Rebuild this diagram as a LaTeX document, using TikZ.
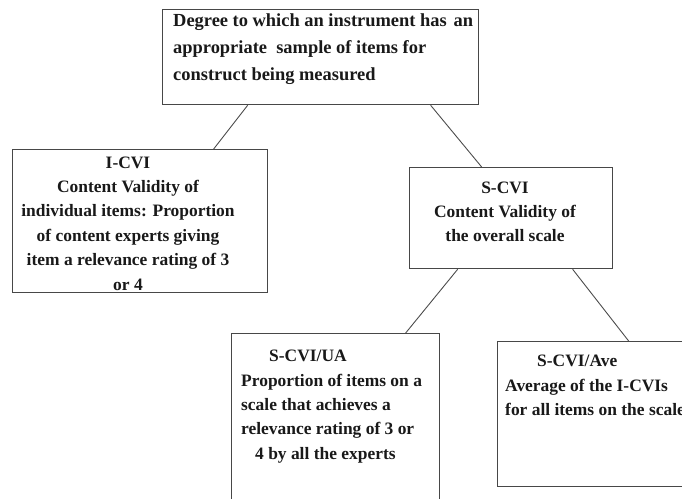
\documentclass[tikz,border=0pt]{standalone}
\usepackage{fontspec}
\setmainfont{Liberation Serif}
\begin{document}
\begin{tikzpicture}[x=1bp,y=-1bp,
  box/.style={draw=black!72, line width=1.3bp, rectangle, inner sep=0pt, anchor=north west},
  conn/.style={draw=black!70, line width=0.9bp},
  txt/.style={inner sep=0pt, font={\fontsize{17.5}{24.5}\selectfont\bfseries}, text=black!90},
  toptxt/.style={inner sep=0pt, font={\fontsize{18.5}{27.2}\selectfont\bfseries}, text=black!90}]
\useasboundingbox (0,0) rectangle (682,499);
\clip (0,0) rectangle (682,499);
% boxes
\node[box, minimum width=316bp, minimum height=95bp] (top) at (162,9) {};
\node[box, minimum width=255bp, minimum height=143bp] (icvi) at (12,149) {};
\node[box, minimum width=203bp, minimum height=101bp] (scvi) at (409,167) {};
\node[box, minimum width=208bp, minimum height=187bp] (ua) at (231,333) {};
\node[box, minimum width=203bp, minimum height=145bp] (ave) at (497,341) {};
% texts
\node[toptxt, anchor=north west, align=left] (toptext) at (173,13.5)
  {Degree to which an instrument has\hspace{7bp}an\\appropriate\ \ sample of items for\\construct being measured};
\node[txt, anchor=north, align=center] (icvitext) at (128,156.4)
  {I-CVI\\Content Validity of\\individual items: Proportion\\of content experts giving\\item a relevance rating of 3\\or 4};
\node[txt, anchor=north, align=center] (scvitext) at (505,181.4)
  {S-CVI\\Content Validity of\\the overall scale};
\node[txt, anchor=north west, align=left] (uatext) at (241,350)
  {\hspace*{28bp}S-CVI/UA\\Proportion of items on a\\scale that achieves a\\relevance rating of 3 or\\\hspace*{14bp}4 by all the experts};
\node[txt, anchor=north west, align=left] (avetext) at (505,355)
  {\hspace*{32bp}S-CVI/Ave\\Average of the I-CVIs\\for all items on the scale};
% connectors
\draw[conn] ([xshift=-73bp]top.south) -- ([xshift=73.5bp]icvi.north);
\draw[conn] ([xshift=110bp]top.south) -- ([xshift=-29.5bp]scvi.north);
\draw[conn] ([xshift=-53.5bp]scvi.south) -- ([xshift=70bp]ua.north);
\draw[conn] ([xshift=61.5bp]scvi.south) -- ([xshift=29.5bp]ave.north);
\end{tikzpicture}
\end{document}
